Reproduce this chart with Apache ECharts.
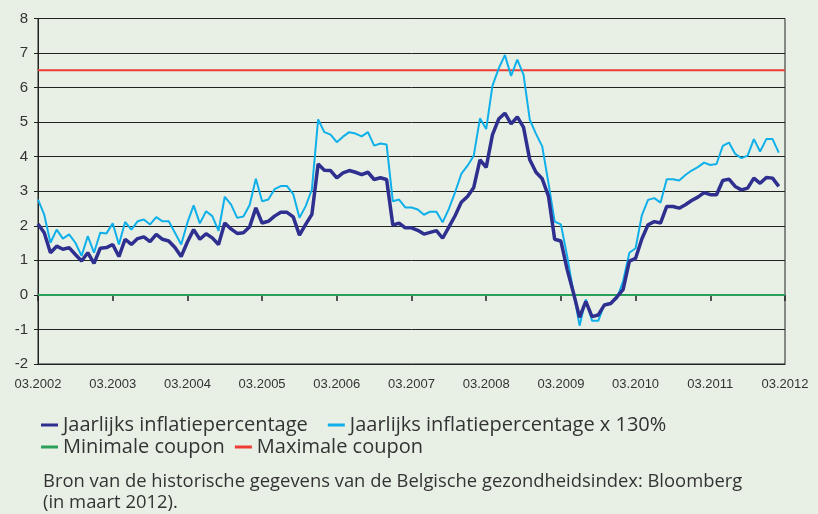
<!DOCTYPE html>
<html>
<head>
<meta charset="utf-8">
<title>Inflatie</title>
<script src="https://cdn.jsdelivr.net/npm/echarts@6/dist/echarts.min.js"></script>
<style>
html, body { margin: 0; padding: 0; background: #e8f0e6; }
#chart { width: 818px; height: 514px; }
</style>
</head>
<body>
<div id="chart"></div>
<script>
// maandelijkse waarden, 03.2002 t/m 02.2012
const jaarlijks = [
  2.05, 1.80, 1.22, 1.41, 1.32, 1.37, 1.17, 0.98, 1.22, 0.91, 1.35, 1.37,
  1.46, 1.11, 1.61, 1.46, 1.63, 1.68, 1.54, 1.75, 1.61, 1.56, 1.37, 1.11,
  1.53, 1.89, 1.61, 1.77, 1.65, 1.46, 2.08, 1.91, 1.78, 1.80, 1.97, 2.52,
  2.08, 2.13, 2.28, 2.39, 2.39, 2.26, 1.73, 2.04, 2.33, 3.79, 3.61, 3.60,
  3.39, 3.53, 3.60, 3.55, 3.48, 3.55, 3.34, 3.39, 3.34, 2.02, 2.08, 1.94,
  1.94, 1.87, 1.76, 1.81, 1.86, 1.64, 1.96, 2.29, 2.68, 2.85, 3.11, 3.91,
  3.69, 4.63, 5.09, 5.26, 4.95, 5.15, 4.85, 3.91, 3.55, 3.36, 2.86, 1.61,
  1.56, 0.74, 0.07, -0.65, -0.19, -0.63, -0.58, -0.29, -0.25, -0.06, 0.16, 0.98,
  1.06, 1.62, 2.03, 2.12, 2.08, 2.56, 2.56, 2.51, 2.61, 2.73, 2.83, 2.96,
  2.90, 2.90, 3.31, 3.35, 3.14, 3.04, 3.09, 3.38, 3.23, 3.40, 3.38, 3.14
]
const jaarlijks130 = [
  2.76, 2.32, 1.51, 1.89, 1.63, 1.75, 1.51, 1.13, 1.70, 1.22, 1.80, 1.78,
  2.07, 1.46, 2.11, 1.89, 2.13, 2.18, 2.04, 2.25, 2.13, 2.13, 1.80, 1.46,
  2.09, 2.59, 2.07, 2.42, 2.28, 1.85, 2.84, 2.62, 2.23, 2.27, 2.60, 3.36,
  2.71, 2.76, 3.06, 3.15, 3.15, 2.92, 2.23, 2.57, 3.05, 5.08, 4.71, 4.64,
  4.42, 4.58, 4.71, 4.67, 4.59, 4.71, 4.32, 4.38, 4.35, 2.71, 2.76, 2.53,
  2.53, 2.47, 2.32, 2.41, 2.41, 2.10, 2.49, 2.97, 3.50, 3.74, 4.03, 5.11,
  4.80, 6.05, 6.55, 6.94, 6.34, 6.81, 6.37, 5.07, 4.66, 4.30, 3.24, 2.12,
  2.04, 1.13, 0.10, -0.89, -0.13, -0.75, -0.75, -0.27, -0.24, -0.10, 0.40, 1.22,
  1.35, 2.30, 2.75, 2.80, 2.67, 3.35, 3.35, 3.31, 3.47, 3.60, 3.70, 3.83,
  3.76, 3.79, 4.31, 4.41, 4.08, 3.96, 4.03, 4.51, 4.15, 4.51, 4.51, 4.12
]
const minimaleCoupon = 0
const maximaleCoupon = 6.5
const startJaar = 2002
const eindJaar = 2012

// categorieen: maanden 03.2002 .. 03.2012
const maanden = []
for (let j = startJaar; j <= eindJaar; j++) {
  for (let m = 1; m <= 12; m++) {
    if (j === startJaar && m < 3) continue
    if (j === eindJaar && m > 3) continue
    maanden.push((m < 10 ? '0' + m : '' + m) + '.' + j)
  }
}
const eerste = maanden[0]
const laatste = maanden[maanden.length - 1]

const font = 'Liberation Sans'
const legendFont = 'Open Sans'
const tekst = '#333'

const chart = echarts.init(document.getElementById('chart'))
chart.setOption({
  backgroundColor: '#e8f0e6',
  animation: false,
  textStyle: { fontFamily: font },
  grid: {
    left: 38,
    right: 33,
    top: 18.5,
    bottom: 150,
    show: true,
    borderColor: '#222',
    borderWidth: 1,
    backgroundColor: 'transparent'
  },
  legend: [{
    data: ['Jaarlijks inflatiepercentage', 'Jaarlijks inflatiepercentage x 130%'],
    left: 36,
    top: 410,
    icon: 'rect',
    itemWidth: 17,
    itemHeight: 3,
    itemGap: 20,
    textStyle: { fontSize: 20, color: tekst, fontFamily: legendFont }
  }, {
    data: ['Minimale coupon', 'Maximale coupon'],
    left: 36,
    top: 432,
    icon: 'rect',
    itemWidth: 17,
    itemHeight: 3,
    itemGap: 10,
    textStyle: { fontSize: 20, color: tekst, fontFamily: legendFont }
  }],
  xAxis: [{
    type: 'category',
    data: maanden,
    boundaryGap: false,
    position: 'bottom',
    axisLine: { onZero: false, lineStyle: { color: '#222' } },
    axisTick: { show: false },
    axisLabel: { interval: 11, color: tekst, fontSize: 13, margin: 14 },
    splitLine: { show: false }
  }, {
    // alleen de maatstreepjes op de nullijn
    type: 'category',
    data: maanden,
    boundaryGap: false,
    position: 'top',
    axisLine: { show: false, onZero: true },
    axisTick: { show: true, interval: 11, inside: true, length: 6, lineStyle: { color: '#222', width: 1.5 } },
    axisLabel: { show: false },
    splitLine: { show: false }
  }],
  yAxis: {
    type: 'value',
    min: -2,
    max: 8,
    interval: 1,
    axisLine: { show: true, lineStyle: { color: '#222' } },
    axisTick: { show: true, length: 4, lineStyle: { color: '#222' } },
    axisLabel: { color: tekst, fontSize: 15, margin: 10 },
    splitLine: { lineStyle: { color: '#222', width: 1 } }
  },
  series: [{
    name: 'Minimale coupon',
    type: 'line',
    data: [[eerste, minimaleCoupon], [laatste, minimaleCoupon]],
    color: '#2ba05a',
    lineStyle: { width: 2 },
    symbol: 'none',
    z: 1
  }, {
    name: 'Maximale coupon',
    type: 'line',
    data: [[eerste, maximaleCoupon], [laatste, maximaleCoupon]],
    color: '#ee3b33',
    lineStyle: { width: 2 },
    symbol: 'none',
    z: 1
  }, {
    name: 'Jaarlijks inflatiepercentage x 130%',
    type: 'line',
    data: jaarlijks130,
    color: '#0fb0ea',
    lineStyle: { width: 2 },
    symbol: 'none',
    z: 2
  }, {
    name: 'Jaarlijks inflatiepercentage',
    type: 'line',
    data: jaarlijks,
    color: '#2e2f8f',
    lineStyle: { width: 3.5 },
    symbol: 'none',
    z: 3
  }],
  graphic: [{
    type: 'text',
    left: 43,
    top: 471,
    style: {
      text: 'Bron van de historische gegevens van de Belgische gezondheidsindex: Bloomberg\n(in maart 2012).',
      font: '18.4px "Open Sans"',
      fill: tekst,
      lineHeight: 21
    }
  }]
})
</script>
</body>
</html>
